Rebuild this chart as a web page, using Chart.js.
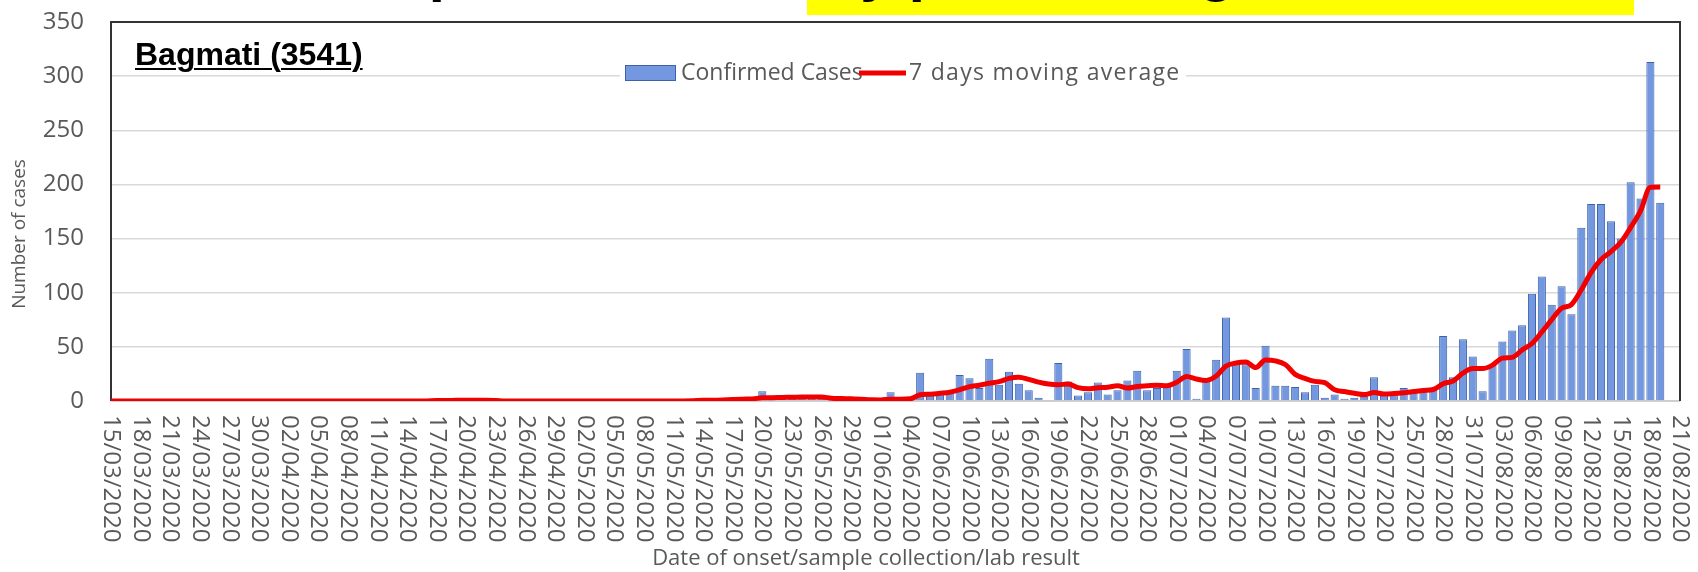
<!DOCTYPE html>
<html>
<head>
<meta charset="utf-8">
<script src="https://cdn.jsdelivr.net/npm/chart.js@4.4.1/dist/chart.umd.min.js"></script>
<style>
  html, body { margin: 0; padding: 0; background: #fff; }
  #wrap { position: relative; width: 1698px; height: 572px; overflow: hidden; }
  canvas { position: absolute; left: 0; top: 0; }
  #headline {
    position: absolute; left: 392px; top: -59px; white-space: nowrap;
    font: bold 58px "Liberation Sans", Arial, sans-serif; line-height: 58px; color: #000;
  }
  #headline .lead { letter-spacing: -2px; }
  #headline .hl { background: #ffff00; padding: 0 129px 13px 18px; }
  #region {
    position: absolute; left: 135px; top: 36px; white-space: nowrap;
    font: bold 32px "Liberation Sans", Arial, sans-serif; color: #000;
    text-decoration: underline; text-decoration-thickness: 2px; text-underline-offset: 3px;
  }
</style>
</head>
<body>
<div id="wrap">
  <canvas id="epi" width="1698" height="572"></canvas>
  <div id="headline"><span class="lead">Epidemic curve </span><span class="hl">by province against time</span></div>
  <div id="region">Bagmati (3541)</div>
</div>
<script>
// one category per day, 15/03/2020 .. 21/08/2020
const days = [
  '15/03/2020','16/03/2020','17/03/2020','18/03/2020','19/03/2020','20/03/2020','21/03/2020','22/03/2020','23/03/2020','24/03/2020',
  '25/03/2020','26/03/2020','27/03/2020','28/03/2020','29/03/2020','30/03/2020','31/03/2020',
  '01/04/2020','02/04/2020','03/04/2020','04/04/2020','05/04/2020','06/04/2020','07/04/2020','08/04/2020','09/04/2020','10/04/2020',
  '11/04/2020','12/04/2020','13/04/2020','14/04/2020','15/04/2020','16/04/2020','17/04/2020','18/04/2020','19/04/2020','20/04/2020',
  '21/04/2020','22/04/2020','23/04/2020','24/04/2020','25/04/2020','26/04/2020','27/04/2020','28/04/2020','29/04/2020','30/04/2020',
  '01/05/2020','02/05/2020','03/05/2020','04/05/2020','05/05/2020','06/05/2020','07/05/2020','08/05/2020','09/05/2020','10/05/2020',
  '11/05/2020','12/05/2020','13/05/2020','14/05/2020','15/05/2020','16/05/2020','17/05/2020','18/05/2020','19/05/2020','20/05/2020',
  '21/05/2020','22/05/2020','23/05/2020','24/05/2020','25/05/2020','26/05/2020','27/05/2020','28/05/2020','29/05/2020','30/05/2020','31/05/2020',
  '01/06/2020','02/06/2020','03/06/2020','04/06/2020','05/06/2020','06/06/2020','07/06/2020','08/06/2020','09/06/2020','10/06/2020',
  '11/06/2020','12/06/2020','13/06/2020','14/06/2020','15/06/2020','16/06/2020','17/06/2020','18/06/2020','19/06/2020','20/06/2020',
  '21/06/2020','22/06/2020','23/06/2020','24/06/2020','25/06/2020','26/06/2020','27/06/2020','28/06/2020','29/06/2020','30/06/2020',
  '01/07/2020','02/07/2020','03/07/2020','04/07/2020','05/07/2020','06/07/2020','07/07/2020','08/07/2020','09/07/2020','10/07/2020',
  '11/07/2020','12/07/2020','13/07/2020','14/07/2020','15/07/2020','16/07/2020','17/07/2020','18/07/2020','19/07/2020','20/07/2020',
  '21/07/2020','22/07/2020','23/07/2020','24/07/2020','25/07/2020','26/07/2020','27/07/2020','28/07/2020','29/07/2020','30/07/2020','31/07/2020',
  '01/08/2020','02/08/2020','03/08/2020','04/08/2020','05/08/2020','06/08/2020','07/08/2020','08/08/2020','09/08/2020','10/08/2020',
  '11/08/2020','12/08/2020','13/08/2020','14/08/2020','15/08/2020','16/08/2020','17/08/2020','18/08/2020','19/08/2020','20/08/2020','21/08/2020'
];

// labels shown under the axis (every third day)
const tickLabels = [
  '15/03/2020','18/03/2020','21/03/2020','24/03/2020','27/03/2020','30/03/2020','02/04/2020','05/04/2020','08/04/2020',
  '11/04/2020','14/04/2020','17/04/2020','20/04/2020','23/04/2020','26/04/2020','29/04/2020','02/05/2020','05/05/2020',
  '08/05/2020','11/05/2020','14/05/2020','17/05/2020','20/05/2020','23/05/2020','26/05/2020','29/05/2020','01/06/2020',
  '04/06/2020','07/06/2020','10/06/2020','13/06/2020','16/06/2020','19/06/2020','22/06/2020','25/06/2020','28/06/2020',
  '01/07/2020','04/07/2020','07/07/2020','10/07/2020','13/07/2020','16/07/2020','19/07/2020','22/07/2020','25/07/2020',
  '28/07/2020','31/07/2020','03/08/2020','06/08/2020','09/08/2020','12/08/2020','15/08/2020','18/08/2020','21/08/2020'
];

// daily confirmed cases
const confirmedCases = [
  0,0,0,0,0,0,0,0,0,0,
  0,0,0,0,0,0,0,0,0,0,
  0,0,0,0,0,0,0,0,0,0,
  0,0,1,2,0,1,0,0,0,0,
  0,0,0,0,0,0,0,0,0,0,
  0,0,0,0,0,0,0,0,1,1,
  2,1,2,3,2,2,9,3,2,3,
  4,2,3,1,1,0,1,0,1,8,
  1,3,26,5,6,8,24,21,12,39,
  15,27,16,10,3,0,35,18,5,8,
  17,6,10,19,28,10,12,14,28,48,
  2,19,38,77,34,34,12,51,14,14,
  13,8,15,3,6,2,3,4,22,5,
  6,12,9,10,10,60,22,57,41,9,
  33,55,65,70,99,115,89,106,80,160,
  182,182,166,150,202,187,313,183,0,0
];

// red curve
const movingAverage = [
  0,0,0,0,0,0,0,0,0,0,
  0,0,0,0,0,0,0,0,0,0,
  0,0,0,0,0,0,0,0,0,0,
  0,0,0.1,0.4,0.4,0.6,0.6,0.6,0.6,0.4,
  0.1,0.1,0,0,0,0,0,0,0,0,
  0,0,0,0,0,0,0,0,0.1,0.3,
  0.6,0.7,1.0,1.4,1.7,1.9,3.0,3.1,3.3,3.4,
  3.6,3.6,3.7,2.6,2.3,2.0,1.7,1.1,1.0,1.7,
  1.7,2.0,5.7,6.3,7.1,8.1,10.4,13.3,14.6,16.4,
  17.9,20.9,22.0,20.0,17.4,15.7,15.1,15.6,12.4,11.3,
  12.3,12.7,14.1,11.9,13.3,14.0,14.6,14.1,17.3,22.7,
  20.3,19.0,23.0,32.3,35.1,36.0,30.9,37.9,37.1,33.7,
  24.6,20.9,18.1,16.9,10.4,8.7,7.1,5.9,7.9,6.4,
  6.9,7.7,8.7,9.7,10.6,16.0,18.4,25.7,29.9,29.9,
  33.1,39.6,40.3,47.1,53.1,63.7,75.1,85.6,89.1,102.7,
  118.7,130.6,137.9,146.6,160.3,175.6,197.4,197.6,null,null
];

const GREY = '#595959';
const FONT = '"Open Sans", "Noto Sans", sans-serif';

// dark frame on top/left/right of the plot, light axis line at the bottom
const framePlugin = {
  id: 'frame',
  beforeDatasetsDraw(chart) {
    const { ctx, chartArea: a } = chart;
    ctx.save();
    ctx.strokeStyle = '#c8c8c8';
    ctx.lineWidth = 1.5;
    ctx.beginPath();
    ctx.moveTo(a.left, a.bottom);
    ctx.lineTo(a.right, a.bottom);
    ctx.stroke();
    ctx.strokeStyle = '#333333';
    ctx.lineWidth = 2;
    ctx.beginPath();
    ctx.moveTo(a.left, a.bottom);
    ctx.lineTo(a.left, a.top);
    ctx.lineTo(a.right, a.top);
    ctx.lineTo(a.right, a.bottom);
    ctx.stroke();
    ctx.restore();
  }
};

// date labels turned clockwise (read top to bottom), plus both axis titles
const axisTextPlugin = {
  id: 'axisText',
  afterDraw(chart) {
    const { ctx, chartArea: a, scales: { x } } = chart;
    ctx.save();
    ctx.fillStyle = GREY;
    ctx.font = '24px ' + FONT;
    ctx.textAlign = 'left';
    ctx.textBaseline = 'middle';
    tickLabels.forEach(lbl => {
      const px = x.getPixelForValue(days.indexOf(lbl));
      ctx.save();
      ctx.translate(px, a.bottom + 14);
      ctx.rotate(Math.PI / 2);
      ctx.fillText(lbl, 0, 0);
      ctx.restore();
    });
    // x title
    ctx.font = '22px ' + FONT;
    ctx.textAlign = 'center';
    ctx.fillText('Date of onset/sample collection/lab result', 866, 559);
    // y title
    ctx.font = '19px ' + FONT;
    ctx.translate(20, 234);
    ctx.rotate(-Math.PI / 2);
    ctx.fillText('Number of cases', 0, 0);
    ctx.restore();
  }
};

// legend sits inside the plot on a white box (covers the 300 gridline)
const innerLegendPlugin = {
  id: 'innerLegend',
  afterDraw(chart) {
    const { ctx } = chart;
    const [bars, line] = chart.data.datasets;
    const cy = 73;
    ctx.save();
    ctx.fillStyle = '#ffffff';
    ctx.fillRect(620, cy - 13, 566, 26);
    ctx.font = '23px ' + FONT;
    ctx.textBaseline = 'middle';
    ctx.textAlign = 'left';
    ctx.fillStyle = bars.backgroundColor;
    ctx.fillRect(625, cy - 8, 51, 16);
    ctx.strokeStyle = bars.borderColor;
    ctx.lineWidth = 1;
    ctx.strokeRect(625.5, cy - 7.5, 50, 15);
    ctx.fillStyle = GREY;
    ctx.fillText(bars.label, 681, cy);
    ctx.strokeStyle = line.borderColor;
    ctx.lineWidth = 5;
    ctx.beginPath();
    ctx.moveTo(859, cy);
    ctx.lineTo(906, cy);
    ctx.stroke();
    ctx.letterSpacing = '1.3px';
    ctx.fillText(line.label, 909, cy);
    ctx.restore();
  }
};

new Chart(document.getElementById('epi'), {
  data: {
    labels: days,
    datasets: [
      {
        type: 'bar',
        label: 'Confirmed Cases',
        data: confirmedCases,
        backgroundColor: '#7398df',
        borderColor: '#3d62ad',
        borderWidth: 1,
        barPercentage: 0.82,
        categoryPercentage: 1.0,
        order: 2
      },
      {
        type: 'line',
        label: '7 days moving average',
        data: movingAverage,
        borderColor: '#f20000',
        borderWidth: 5,
        pointRadius: 0,
        tension: 0.4,
        cubicInterpolationMode: 'monotone',
        fill: false,
        order: 1
      }
    ]
  },
  options: {
    responsive: false,
    animation: false,
    devicePixelRatio: 1,
    layout: { padding: { left: 0, right: 18, top: 22, bottom: 0 } },
    plugins: {
      legend: { display: false },
      tooltip: { enabled: false }
    },
    scales: {
      x: {
        type: 'category',
        offset: false,
        grid: { display: false },
        border: { display: false },
        ticks: { display: false },
        afterFit(scale) { scale.height = 171; }
      },
      y: {
        min: 0,
        max: 350,
        ticks: {
          stepSize: 50,
          color: GREY,
          font: { family: FONT, size: 24 },
          padding: 27
        },
        grid: { color: '#d9d9d9', lineWidth: 1.5, drawTicks: false },
        border: { display: false },
        afterFit(scale) {
          scale.width = 111;
          scale.paddingTop = 0;
          scale.paddingBottom = 0;
        }
      }
    }
  },
  plugins: [framePlugin, axisTextPlugin, innerLegendPlugin]
});
</script>
</body>
</html>
